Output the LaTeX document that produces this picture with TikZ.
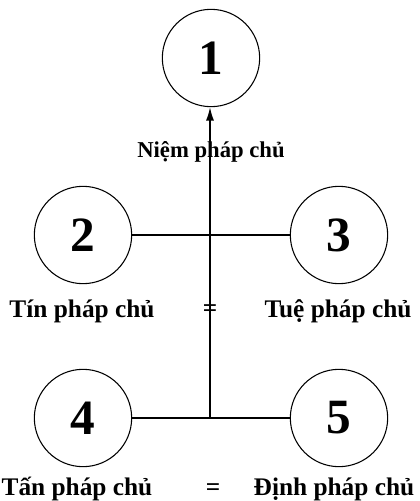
\documentclass[tikz,border=0pt]{standalone}
\usepackage{fontspec}
\setmainfont{Liberation Serif}
\usetikzlibrary{arrows.meta}

\tikzset{
  phap/.style={draw, circle, line width=0.8pt, minimum size=73pt, inner sep=0pt,
    font=\fontsize{37}{37}\selectfont\bfseries},
  nhan/.style={font=\fontsize{19}{21}\selectfont\bfseries, inner sep=0pt, anchor=base},
  noi/.style={line width=1pt}
}

\begin{document}
\begin{tikzpicture}[x=0.75pt, y=-0.75pt]
      \useasboundingbox (0, 0) rectangle (420, 501);

      % vong tron
      \node[phap] (n1) at (211, 58) {1};
      \node[phap] (n2) at (83, 235) {2};
      \node[phap] (n3) at (339, 235) {3};
      \node[phap] (n4) at (83, 418) {4};
      \node[phap] (n5) at (339, 418) {5};

      \coordinate (goc) at (210, 417);

      % duong noi
      \draw[noi] (n2) -- (n3);
      \draw[noi] (n4) -- (n5);
      \draw[noi, -{Latex[length=10pt, width=6pt]}] (goc) -- (n1.south -| goc);

      % nhan
      \node[nhan, font=\fontsize{17}{19}\selectfont\bfseries] (t1) at (211, 157) {Niệm pháp chủ};
      \node[nhan] (t2) at (82, 317) {Tín pháp chủ};
      \node[nhan] (t3) at (338, 317) {Tuệ pháp chủ};
      \node[nhan] (b1) at (210, 316) {=};
      \node[nhan] (t4) at (77, 495) {Tấn pháp chủ};
      \node[nhan] (b2) at (213, 495) {=};
      \node[nhan] (t5) at (334, 495) {Định pháp chủ};
\end{tikzpicture}
\end{document}
